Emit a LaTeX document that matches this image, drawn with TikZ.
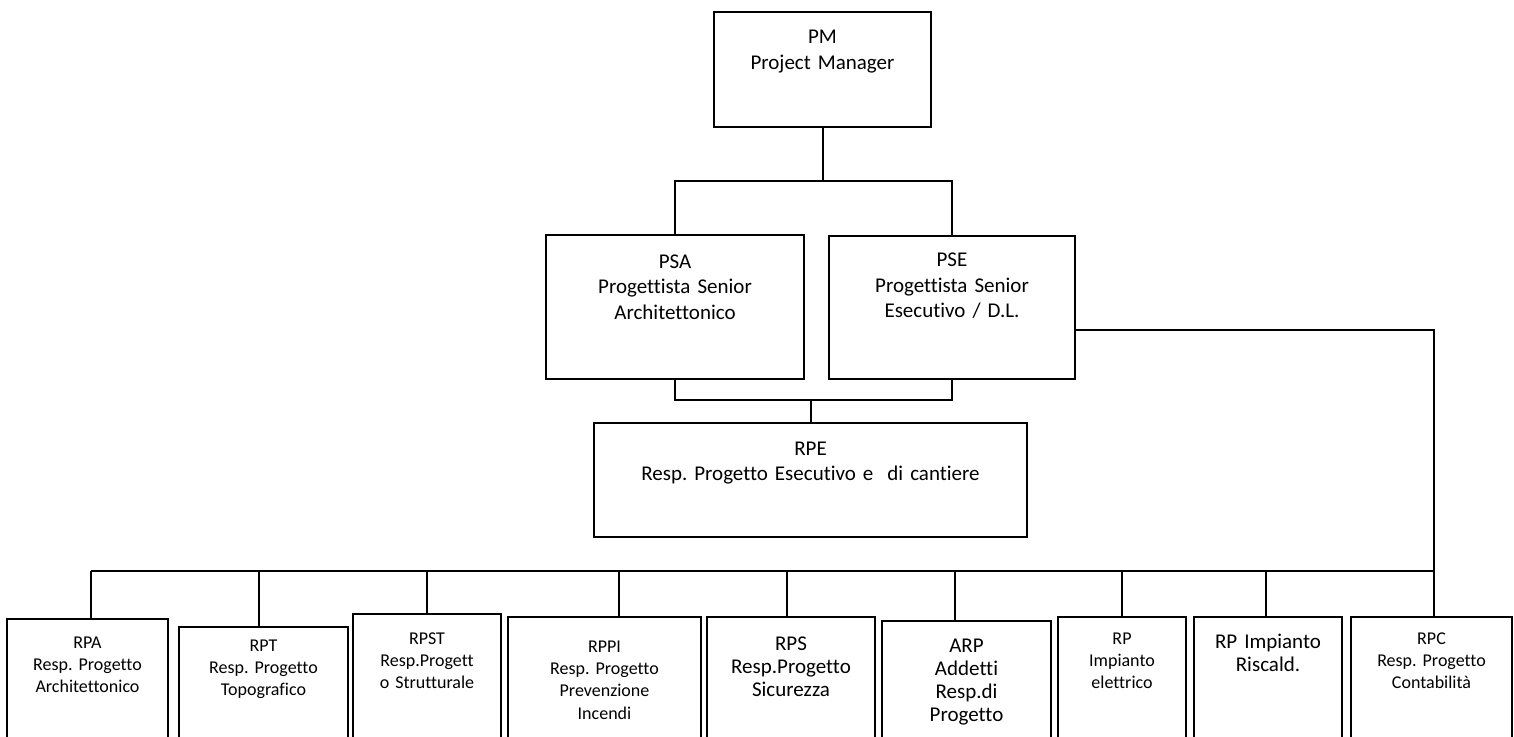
\documentclass[tikz,border=0pt]{standalone}
\usepackage{fontspec}
\setmainfont{Carlito}[Ligatures=NoCommon]
\frenchspacing

\begin{document}
\begin{tikzpicture}[x=0.5pt, y=-0.5pt,
    box/.style={draw, line width=1pt, inner sep=0pt, anchor=north, align=center},
    big/.style={font=\fontsize{10.5}{12.8}\selectfont},
    mid/.style={font=\fontsize{10.5}{11.5}\selectfont},
    small/.style={font=\fontsize{9}{11.2}\selectfont},
    link/.style={line width=1pt}]
  \useasboundingbox (0,0) rectangle (1514,736);
  \clip (0,0) rectangle (1514,736);

  %top levels
  \node[box, big, text width=108.5pt, text height=15.85pt, text depth=41.65pt] (pm) at (822.5,11) {PM\\Project Manager};
  \node[box, big, text width=129pt, text height=16.5pt, text depth=55.5pt] (psa) at (675,234) {PSA\\Progettista Senior\\Architettonico};
  \node[box, big, text width=123pt, text height=15.35pt, text depth=56.15pt] (pse) at (952,235) {PSE\\Progettista Senior\\Esecutivo / D.L.};
  \node[box, big, text width=216.5pt, text height=16pt, text depth=41pt] (rpe) at (810.5,422) {RPE\\Resp. Progetto Esecutivo e\ \ di cantiere};

  %bottom row
  \node[box, small, text width=80.5pt, text height=14.5pt, text depth=56.5pt] (rpa) at (87.5,618) {RPA\\Resp. Progetto\\Architettonico};
  \node[box, small, text width=84.5pt, text height=12pt, text depth=55pt] (rpt) at (263.5,626) {RPT\\Resp. Progetto\\Topografico};
  \node[box, small, text width=74pt, text height=15pt, text depth=58.5pt] (rpst) at (427,613) {RPST\\Resp.Progett\\o Strutturale};
  \node[box, small, text width=96.5pt, text height=17.5pt, text depth=54.5pt] (rppi) at (604.5,616) {RPPI\\Resp. Progetto\\Prevenzione\\Incendi};
  \node[box, mid, text width=84pt, text height=16.5pt, text depth=55.5pt] (rps) at (791,616) {RPS\\Resp.Progetto\\Sicurezza};
  \node[box, mid, text width=84.5pt, text height=15.5pt, text depth=54.5pt] (arp) at (966.5,620) {ARP\\Addetti\\Resp.di\\Progetto};
  \node[box, small, text width=64pt, text height=13.5pt, text depth=58.5pt] (rpie) at (1122,616) {RP\\Impianto\\elettrico};
  \node[box, mid, text width=74pt, text height=15.5pt, text depth=56.5pt] (rpir) at (1268,616) {RP Impianto\\Riscald.};
  \node[box, small, text width=80.5pt, text height=13.5pt, text depth=58.5pt] (rpc) at (1431.5,616) {RPC\\Resp. Progetto\\Contabilità};

  %joints
  \coordinate (j1) at (822.5,181);
  \coordinate (j2) at (810.5,400);
  \coordinate (j3) at (1434,330);
  \coordinate (rpa-bus) at (91,571);
  \coordinate (rpt-bus) at (259,571);
  \coordinate (rpst-bus) at (427,571);
  \coordinate (rppi-bus) at (619,571);
  \coordinate (rps-bus) at (787,571);
  \coordinate (arp-bus) at (955,571);
  \coordinate (rpie-bus) at (1122,571);
  \coordinate (rpir-bus) at (1266,571);
  \coordinate (rpc-bus) at (1434,571);

  \draw[link] (pm.south) -- (j1);
  \draw[link] (psa.north) |- (j1) -| (pse.north);
  \draw[link] (psa.south) |- (j2) -| (pse.south);
  \draw[link] (j2) -- (rpe.north);
  \draw[link] (pse.east |- j3) -| (rpc-bus) -- (rpa-bus);
  \foreach \c in {rpa,rpt,rpst,rppi,rps,arp,rpie,rpir,rpc}
    \draw[link] (\c-bus) -- (\c-bus |- \c.north);
\end{tikzpicture}
\end{document}
